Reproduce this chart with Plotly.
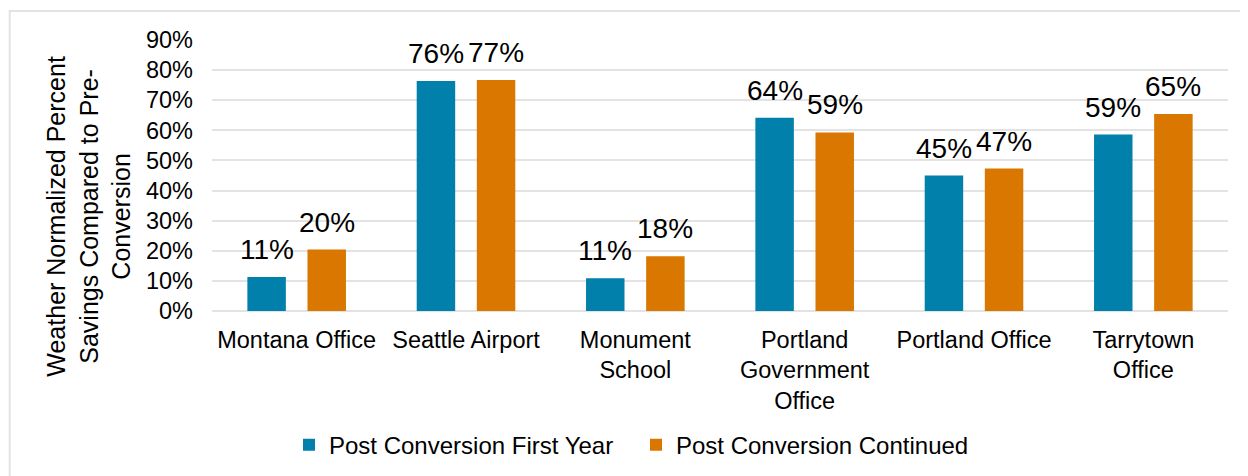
import plotly.graph_objects as go

categories = ["Montana Office", "Seattle Airport", "Monument<br>School",
              "Portland<br>Government<br>Office", "Portland Office", "Tarrytown<br>Office"]
first_year = [11.3, 76.4, 10.9, 64.2, 45.0, 58.6]
continued = [20.4, 76.7, 18.2, 59.3, 47.3, 65.4]
series_names = ["Post Conversion First Year", "Post Conversion Continued"]
colors = ["#0080AA", "#D97700"]
y_ticks = [0, 10, 20, 30, 40, 50, 60, 70, 80, 90]

FONT = "Liberation Sans, Arial, sans-serif"
OFF = 8  # page body margin
W, H = 1248, 476
# plot area in page pixels: x 212..1228, y 40..311.5
L = 212 - OFF
R = W - (1228 - OFF)
T = 40 - OFF
B = H - (311.5 - OFF)
pw, ph = W - L - R, H - T - B

def px_x(x):
    return (x - OFF - L) / pw

def px_y(y):
    return (H - B - (y - OFF)) / ph

fig = go.Figure()
for name, vals, col in zip(series_names, [first_year, continued], colors):
    fig.add_trace(go.Bar(x=categories, y=vals, name=name, marker_color=col,
                         marker_line_width=0))

annotations = []
for k, vals in enumerate([first_year, continued]):
    shift = -29.9 if k == 0 else 29.9
    for c, v in zip(categories, vals):
        annotations.append(dict(x=c, y=v, xref="x", yref="y", text=f"{v:.0f}%",
                                showarrow=False, yanchor="bottom", xanchor="center",
                                xshift=shift, yshift=10,
                                font=dict(family=FONT, size=28, color="#000000")))

annotations.append(dict(
    text="Weather Normalized Percent<br>Savings Compared to Pre-<br>Conversion",
    textangle=-90, showarrow=False, xref="paper", yref="paper",
    x=px_x(89), y=px_y(217), xanchor="center", yanchor="middle",
    font=dict(family=FONT, size=25, color="#000000")))

fig.update_layout(
    width=W, height=H,
    margin=dict(l=L, r=R, t=T, b=B),
    paper_bgcolor="white", plot_bgcolor="white",
    barmode="group", bargap=0.29, bargroupgap=0.36,
    font=dict(family=FONT, size=24, color="#000000"),
    annotations=annotations,
    showlegend=True,
    legend=dict(orientation="h", x=px_x(289), y=px_y(446), xanchor="left",
                yanchor="middle", font=dict(family=FONT, size=24, color="#000000"),
                traceorder="normal", bgcolor="rgba(0,0,0,0)",
                entrywidth=302, entrywidthmode="pixels"),
    shapes=[dict(type="rect", xref="paper", yref="paper",
                 x0=px_x(9.7), x1=px_x(1275), y0=px_y(11), y1=px_y(520),
                 line=dict(color="#E3E3E3", width=2), layer="below")],
)
fig.update_xaxes(showline=False, ticks="", ticklabelstandoff=12,
                 tickfont=dict(family=FONT, size=23.5, color="#000000"),
                 showgrid=False)
fig.update_yaxes(range=[0, 90], tickvals=y_ticks, ticktext=[f"{t}%" for t in y_ticks],
                 showgrid=True, gridcolor="#E3E3E3", gridwidth=1.5,
                 zeroline=True, zerolinecolor="#E3E3E3", zerolinewidth=1.5,
                 ticks="", ticklabelstandoff=18,
                 tickfont=dict(family=FONT, size=23.5, color="#000000"))

fig.write_html("out.html")
